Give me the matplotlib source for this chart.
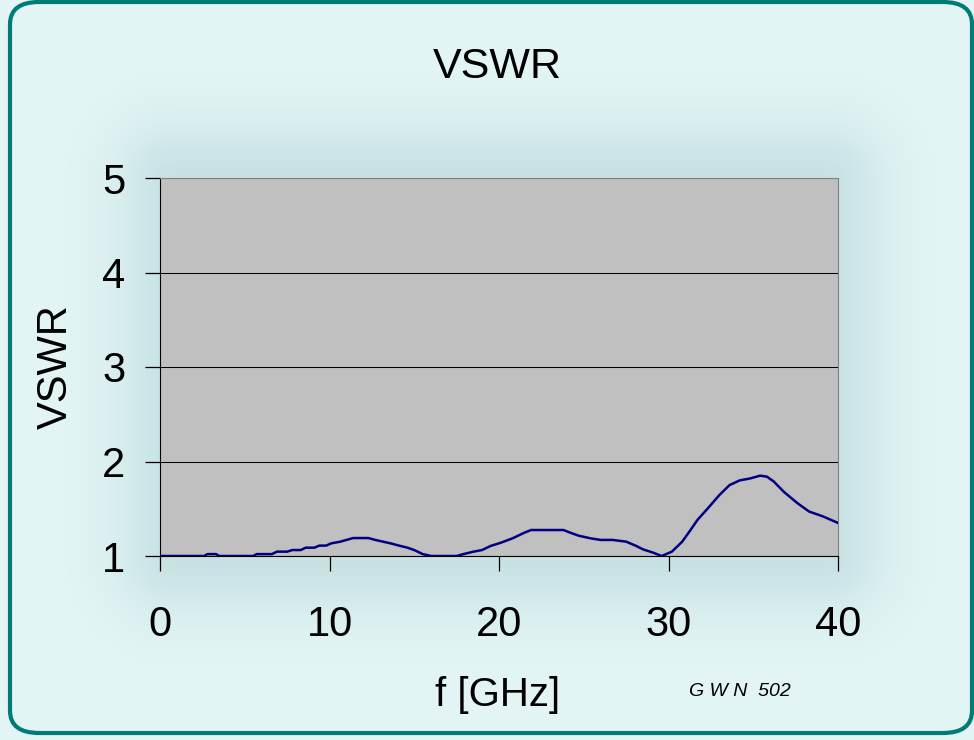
import numpy as np
import matplotlib.pyplot as plt
from matplotlib.patches import FancyBboxPatch

plt.rcParams['font.family'] = ['Liberation Sans', 'DejaVu Sans']

# VSWR curve
freq = [0.0, 2.6, 2.8, 3.3, 3.5, 5.5, 5.7, 6.6, 6.9, 7.5, 7.8, 8.3, 8.6, 9.1, 9.4, 9.8,
        10.1, 10.6, 11.0, 11.4, 12.3, 12.7, 13.2, 13.6, 14.1, 14.6, 15.0, 15.5, 16.0,
        17.5, 17.9, 18.5, 19.0, 19.5, 20.1, 20.8, 21.5, 21.9, 23.8, 24.2, 24.7, 25.4,
        26.0, 26.7, 27.5, 28.1, 28.5, 29.1, 29.6, 30.2, 30.8, 31.3, 31.7, 32.3, 33.0,
        33.6, 34.2, 34.8, 35.4, 35.8, 36.2, 36.8, 37.6, 38.3, 39.1, 40.0]
vswr = [1.0, 1.0, 1.02, 1.02, 1.0, 1.0, 1.02, 1.02, 1.046, 1.046, 1.063, 1.063, 1.088, 1.088,
        1.11, 1.11, 1.134, 1.15, 1.17, 1.19, 1.19, 1.17, 1.15, 1.134, 1.11, 1.088, 1.063,
        1.02, 1.0, 1.0, 1.02, 1.046, 1.063, 1.106, 1.14, 1.187, 1.247, 1.275, 1.275, 1.247,
        1.215, 1.187, 1.17, 1.17, 1.152, 1.106, 1.07, 1.035, 1.0, 1.046, 1.15, 1.275, 1.38,
        1.50, 1.645, 1.75, 1.80, 1.82, 1.85, 1.84, 1.79, 1.68, 1.56, 1.47, 1.42, 1.35]

x_ticks = [0, 10, 20, 30, 40]
y_ticks = [1, 2, 3, 4, 5]

W, H = 974, 740
fig = plt.figure(figsize=(W / 100, H / 100), dpi=100)

# background: pale cyan with a soft darker halo around the plot area
bg = fig.add_axes([0, 0, 1, 1], zorder=-10)
yy, xx = np.mgrid[0:H, 0:W]
x0, x1, y0, y1 = 175, 825, 180, 555
dx = np.maximum(np.maximum(x0 - xx, xx - x1), 0)
dy = np.maximum(np.maximum(y0 - yy, yy - y1), 0)
d = np.sqrt(dx ** 2 + dy ** 2)
halo = np.exp(-(d / 60.0) ** 2)
base = np.array([227, 245, 245]) / 255.0
dark = np.array([200, 226, 228]) / 255.0
img = base[None, None, :] * (1 - halo[..., None]) + dark[None, None, :] * halo[..., None]
bg.imshow(img, aspect='auto', extent=[0, W, H, 0])
bg.set_xlim(0, W)
bg.set_ylim(H, 0)
bg.axis('off')

# rounded teal frame
frame = FancyBboxPatch((10 / W, 7 / H), (W - 12) / W, (H - 9) / H,
                       boxstyle='round,pad=0,rounding_size=0.03',
                       transform=fig.transFigure, facecolor='none',
                       edgecolor='#007B78', linewidth=3, zorder=5)
fig.patches.append(frame)

ax = fig.add_axes([160 / W, 1 - 556 / H, (838 - 160) / W, (556 - 178) / H])
ax.set_facecolor('#C0C0C0')
ax.plot(freq, vswr, color='#000080', linewidth=1.8, zorder=3)
ax.set_xlim(0, 40)
ax.set_ylim(1, 5)
ax.set_xticks(x_ticks)
ax.set_yticks(y_ticks)
ax.grid(axis='y', color='black', linewidth=0.75)
ax.tick_params(axis='both', direction='out', length=11, width=0.9, labelsize=30, colors='black')
ax.tick_params(axis='x', pad=24)
ax.tick_params(axis='y', pad=14)
for side in ['top', 'right']:
    ax.spines[side].set_color('#808080')
for side in ['left', 'bottom']:
    ax.spines[side].set_color('black')

fig.text(497 / W, 1 - 67 / H, 'VSWR', fontsize=31, ha='center', va='center')
fig.text(56 / W, 1 - 367 / H, 'VSWR', fontsize=30, ha='center', va='center', rotation=90)
fig.text(498 / W, 1 - 695 / H, 'f [GHz]', fontsize=29, ha='center', va='center')
fig.text(740 / W, 1 - 692 / H, 'G W N  502', fontsize=14, ha='center', va='center', fontstyle='italic')

fig.savefig('out.png', dpi=100)
